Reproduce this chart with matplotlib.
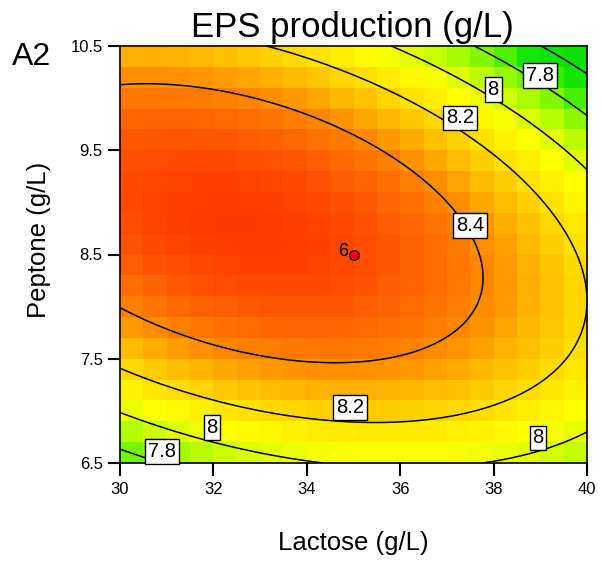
import numpy as np
import matplotlib
matplotlib.use('Agg')
import matplotlib.pyplot as plt
from matplotlib.colors import LinearSegmentedColormap, Normalize

plt.rcParams['font.family'] = ['Liberation Sans', 'DejaVu Sans']

# quadratic response model, coded units:
# A = (lactose - 35) / 5, B = (peptone - 8.5) / 2
# terms: intercept, A, B, AB, A^2, B^2
coefs = [8.55, -0.165, 0.029, -0.254, -0.21, -0.506]

lactose_lim = [30, 40]
peptone_lim = [6.5, 10.5]
x_ticks = [30, 32, 34, 36, 38, 40]
y_ticks = [6.5, 7.5, 8.5, 9.5, 10.5]
levels = [7.6, 7.8, 8.0, 8.2, 8.4]
n_cells = 20

# boxed contour labels: value and where it sits (lactose, peptone)
label_vals = [7.8, 7.8, 8.0, 8.0, 8.0, 8.2, 8.2, 8.4]
label_x = [38.99, 30.90, 37.99, 31.97, 38.95, 37.28, 34.93, 37.49]
label_y = [10.22, 6.61, 10.08, 6.84, 6.74, 9.81, 7.03, 8.78]

design_pt = (35, 8.5)
design_run = '6'

# colour scale (response value -> rgb)
c_vals = [7.40, 7.70, 7.80, 7.90, 8.00, 8.08, 8.20, 8.30, 8.40, 8.50, 8.60]
c_rgb = [(0, 215, 0), (20, 232, 0), (110, 245, 0), (170, 252, 0), (225, 255, 0),
         (255, 255, 0), (255, 222, 0), (255, 185, 0), (255, 135, 0), (255, 95, 0),
         (255, 55, 0)]


def eps_model(lac, pep):
    a = (lac - 35) / 5
    b = (pep - 8.5) / 2
    b0, b1, b2, b12, b11, b22 = coefs
    return b0 + b1 * a + b2 * b + b12 * a * b + b11 * a ** 2 + b22 * b ** 2


vmin, vmax = c_vals[0], c_vals[-1]
cmap = LinearSegmentedColormap.from_list(
    'de', [((v - vmin) / (vmax - vmin), tuple(c / 255 for c in rgb))
           for v, rgb in zip(c_vals, c_rgb)])
norm = Normalize(vmin=vmin, vmax=vmax)

fig = plt.figure(figsize=(6.02, 5.65), dpi=100)
ax = fig.add_axes([120 / 602, 102 / 565, 467 / 602, 417 / 565])

# blocky colour map like Design-Expert
xe = np.linspace(*lactose_lim, n_cells + 1)
ye = np.linspace(*peptone_lim, n_cells + 1)
xc = (xe[:-1] + xe[1:]) / 2
yc = (ye[:-1] + ye[1:]) / 2
XC, YC = np.meshgrid(xc, yc)
ax.pcolormesh(xe, ye, eps_model(XC, YC), cmap=cmap, norm=norm, shading='flat')

# smooth contour lines
xf = np.linspace(*lactose_lim, 301)
yf = np.linspace(*peptone_lim, 301)
XF, YF = np.meshgrid(xf, yf)
ax.contour(XF, YF, eps_model(XF, YF), levels=levels, colors='black', linewidths=1.1)

for v, lx, ly in zip(label_vals, label_x, label_y):
    ax.text(lx, ly, f'{v:g}', fontsize=14.5, ha='center', va='center', zorder=5,
            bbox=dict(boxstyle='square,pad=0.14', facecolor='white',
                      edgecolor='black', linewidth=1.0))

# design point
ax.plot(*design_pt, marker='o', markersize=7, markerfacecolor='red',
        markeredgecolor='black', markeredgewidth=0.8, zorder=6)
ax.annotate(design_run, design_pt, xytext=(-4, 2), textcoords='offset points',
            ha='right', va='center', fontsize=13, zorder=6)

ax.set_xlim(lactose_lim)
ax.set_ylim(peptone_lim)
ax.set_xticks(x_ticks)
ax.set_yticks(y_ticks)
ax.set_xticklabels([str(v) for v in x_ticks])
ax.set_yticklabels([f'{v:.1f}' for v in y_ticks])
ax.tick_params(direction='out', length=9, width=1.5, labelsize=12)
ax.tick_params(axis='x', pad=5)
ax.tick_params(axis='y', pad=3.5)
for s in ax.spines.values():
    s.set_linewidth(1.2)

ax.set_xlabel('Lactose (g/L)', fontsize=18.5)
ax.xaxis.set_label_coords(0.5, -0.162)
ax.set_ylabel('Peptone (g/L)', fontsize=18.5)
ax.yaxis.set_label_coords(-0.148, 0.535)

fig.text(352 / 602, 1 - 37 / 565, 'EPS production (g/L)', fontsize=25,
         ha='center', va='baseline')
fig.text(12 / 602, 1 - 65 / 565, 'A2', fontsize=23, ha='left', va='baseline')

fig.savefig('out.png', dpi=100)
